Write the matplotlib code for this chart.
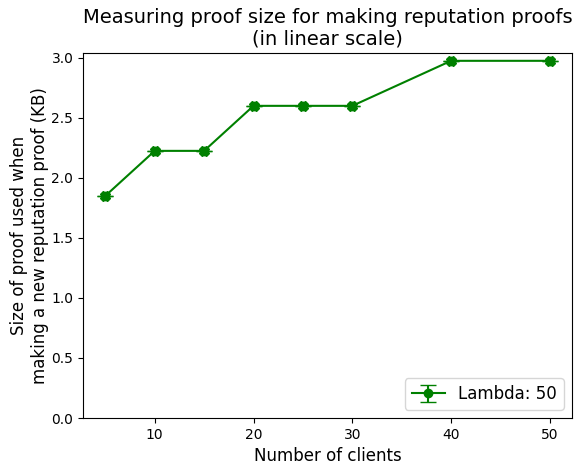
import matplotlib
matplotlib.use("Agg")
import matplotlib.pyplot as plt

clients = [5, 10, 15, 20, 25, 30, 40, 50]
proof_kb = [1.85, 2.225, 2.225, 2.6, 2.6, 2.6, 2.975, 2.975]
proof_err = [0, 0, 0, 0, 0, 0, 0, 0]

fig, ax = plt.subplots(figsize=(5.85, 4.65), dpi=100)

ax.errorbar(clients, proof_kb, yerr=proof_err, fmt='-o', color='green',
            markersize=6, capsize=6, label='Lambda: 50')
ax.plot(clients, proof_kb, 'X', color='green', markersize=7)

ax.set_ylim(0, 3.04)
ax.set_xlabel('Number of clients', fontsize=12)
ax.set_ylabel('Size of proof used when\nmaking a new reputation proof (KB)', fontsize=12, labelpad=2)
ax.set_title('Measuring proof size for making reputation proofs\n(in linear scale)', fontsize=14)
ax.legend(loc='lower right', fontsize=12)

plt.subplots_adjust(left=0.142, right=0.978, top=0.886, bottom=0.101)
fig.savefig('out.png')
